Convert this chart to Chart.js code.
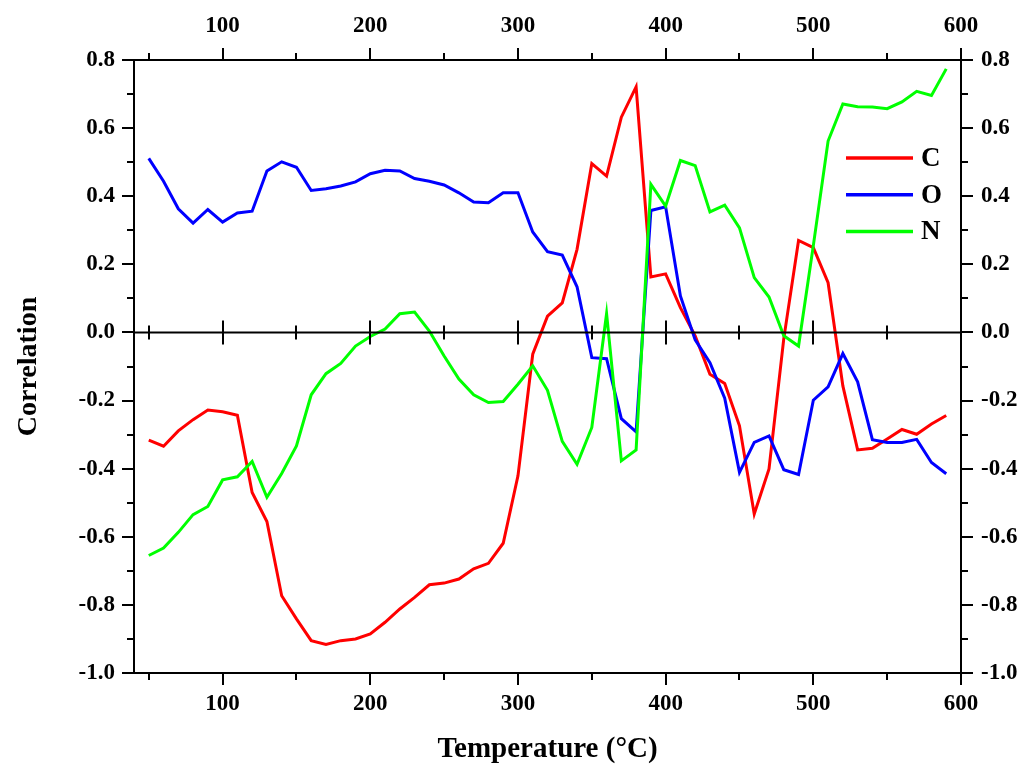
<!DOCTYPE html>
<html>
<head>
<meta charset="utf-8">
<script src="https://cdn.jsdelivr.net/npm/chart.js@4.4.0/dist/chart.umd.min.js"></script>
<style>
  body { margin: 0; background: #fff; }
  #wrap { width: 1021px; height: 765px; }
</style>
</head>
<body>
<div id="wrap"><canvas id="corrChart"></canvas></div>
<script>
// Temperature steps (°C)
const temps = [50, 60, 70, 80, 90, 100, 110, 120, 130, 140, 150, 160, 170, 180,
  190, 200, 210, 220, 230, 240, 250, 260, 270, 280, 290, 300, 310, 320,
  330, 340, 350, 360, 370, 380, 390, 400, 410, 420, 430, 440, 450,
  460, 470, 480, 490, 500, 510, 520, 530, 540, 550, 560, 570, 580, 590];

const cVals = [-0.316, -0.334, -0.289, -0.256, -0.228, -0.233, -0.243, -0.470, -0.555, -0.773, -0.841, -0.905, -0.916, -0.905,
  -0.900, -0.885, -0.851, -0.812, -0.778, -0.741, -0.736, -0.724, -0.694, -0.678, -0.619, -0.421, -0.064, 0.048,
  0.087, 0.244, 0.496, 0.459, 0.632, 0.721, 0.163, 0.172, 0.073, -0.010, -0.123, -0.150, -0.274,
  -0.533, -0.401, -0.018, 0.270, 0.249, 0.146, -0.157, -0.345, -0.340, -0.313, -0.285, -0.299, -0.269, -0.244];

const oVals = [0.511, 0.444, 0.363, 0.321, 0.361, 0.324, 0.351, 0.356, 0.474, 0.501, 0.485, 0.417, 0.422, 0.430,
  0.442, 0.466, 0.476, 0.474, 0.452, 0.444, 0.433, 0.410, 0.383, 0.381, 0.410, 0.410, 0.295, 0.237,
  0.227, 0.134, -0.074, -0.077, -0.253, -0.292, 0.358, 0.369, 0.107, -0.022, -0.089, -0.193, -0.411,
  -0.323, -0.304, -0.403, -0.417, -0.199, -0.160, -0.062, -0.145, -0.315, -0.323, -0.323, -0.314, -0.382, -0.415];

const nVals = [-0.655, -0.633, -0.587, -0.535, -0.511, -0.433, -0.424, -0.379, -0.484, -0.414, -0.333, -0.183, -0.121, -0.091,
  -0.040, -0.012, 0.010, 0.055, 0.060, 0.004, -0.069, -0.137, -0.183, -0.206, -0.203, -0.152, -0.098, -0.170,
  -0.320, -0.387, -0.279, 0.055, -0.377, -0.345, 0.435, 0.371, 0.505, 0.490, 0.354, 0.374, 0.307,
  0.161, 0.104, -0.010, -0.040, 0.255, 0.562, 0.671, 0.663, 0.662, 0.657, 0.677, 0.708, 0.696, 0.774];

const seriesNames = ['C', 'O', 'N'];
const seriesColors = ['#ff0000', '#0000ff', '#00ff00'];

const xMin = 40, xMax = 600, yMin = -1.0, yMax = 0.8;

const FONT = "'Liberation Serif', 'Times New Roman', serif";

function pts(vals) {
  return temps.map((t, i) => ({ x: t, y: vals[i] }));
}

// minor ticks, the zero axis and the inner legend
const axisExtras = {
  id: 'axisExtras',
  afterDraw(chart) {
    const { ctx, chartArea: a, scales: { x, y } } = chart;
    ctx.save();
    ctx.strokeStyle = '#000';
    ctx.lineWidth = 2;
    const zeroY = y.getPixelForValue(0);
    ctx.beginPath();
    ctx.moveTo(a.left, zeroY);
    ctx.lineTo(a.right, zeroY);
    for (let v = 50; v < xMax; v += 50) {
      const px = Math.round(x.getPixelForValue(v));
      const major = v % 100 === 0;
      const len = major ? 12 : 7;
      ctx.moveTo(px, zeroY - len);
      ctx.lineTo(px, zeroY + len);
      if (!major) {
        ctx.moveTo(px, a.bottom);
        ctx.lineTo(px, a.bottom + 7);
        ctx.moveTo(px, a.top);
        ctx.lineTo(px, a.top - 7);
      }
    }
    for (let k = -9; k <= 7; k += 2) {
      const py = Math.round(y.getPixelForValue(k / 10));
      ctx.moveTo(a.left, py);
      ctx.lineTo(a.left - 7, py);
      ctx.moveTo(a.right, py);
      ctx.lineTo(a.right + 7, py);
    }
    ctx.stroke();

    // legend
    ctx.font = "bold 27px " + FONT;
    ctx.textBaseline = 'middle';
    ctx.fillStyle = '#000';
    chart.data.datasets.forEach((ds, i) => {
      const ly = a.top + 98 + i * 36.7;
      const lx = a.right - 115;
      ctx.strokeStyle = ds.borderColor;
      ctx.lineWidth = 3.5;
      ctx.beginPath();
      ctx.moveTo(lx, ly);
      ctx.lineTo(lx + 67, ly);
      ctx.stroke();
      ctx.fillText(ds.label, lx + 75, ly + 1);
    });
    ctx.restore();
  }
};

function yLabel(v) {
  return Math.abs(v) < 1e-9 ? '0.0' : v.toFixed(1);
}

const tickGrid = {
  drawOnChartArea: false,
  drawTicks: true,
  tickLength: 12,
  lineWidth: 2,
  color: '#000'
};
const axisBorder = { display: true, width: 2, color: '#000' };
const tickFont = { family: FONT, size: 23, weight: 'bold' };

const ctx = document.getElementById('corrChart').getContext('2d');
const chart = new Chart(ctx, {
  type: 'line',
  data: {
    datasets: [cVals, oVals, nVals].map((vals, i) => ({
      label: seriesNames[i],
      data: pts(vals),
      borderColor: seriesColors[i],
      borderWidth: 3,
      pointRadius: 0,
      tension: 0,
      fill: false,
      order: 2 - i
    }))
  },
  options: {
    responsive: true,
    maintainAspectRatio: false,
    animation: false,
    layout: { padding: 0 },
    plugins: {
      legend: { display: false },
      tooltip: { enabled: false }
    },
    scales: {
      x: {
        type: 'linear',
        position: 'bottom',
        min: xMin, max: xMax,
        afterFit(s) { s.height = 92; },
        grid: tickGrid,
        border: axisBorder,
        ticks: { stepSize: 100, includeBounds: false, padding: 5, color: '#000', font: tickFont, maxRotation: 0 },
        title: {
          display: true,
          text: 'Temperature (°C)',
          color: '#000',
          font: { family: FONT, size: 29, weight: 'bold', lineHeight: 1 },
          padding: { top: 0, bottom: 1 }
        }
      },
      x2: {
        type: 'linear',
        position: 'top',
        min: xMin, max: xMax,
        afterFit(s) { s.height = 60; },
        grid: tickGrid,
        border: axisBorder,
        ticks: { stepSize: 100, includeBounds: false, padding: 8, color: '#000', font: tickFont, maxRotation: 0 }
      },
      y: {
        type: 'linear',
        position: 'left',
        min: yMin, max: yMax,
        afterFit(s) { s.width = 134; },
        grid: tickGrid,
        border: axisBorder,
        ticks: { stepSize: 0.2, padding: 7, color: '#000', font: tickFont, callback: yLabel },
        title: {
          display: true,
          text: 'Correlation',
          color: '#000',
          font: { family: FONT, size: 28, weight: 'bold', lineHeight: 1 },
          padding: { top: 15, bottom: 0 }
        }
      },
      y2: {
        type: 'linear',
        position: 'right',
        min: yMin, max: yMax,
        afterFit(s) { s.width = 60; },
        grid: tickGrid,
        border: axisBorder,
        ticks: { stepSize: 0.2, padding: 8, color: '#000', font: tickFont, callback: yLabel }
      }
    }
  },
  plugins: [axisExtras]
});
</script>
</body>
</html>
